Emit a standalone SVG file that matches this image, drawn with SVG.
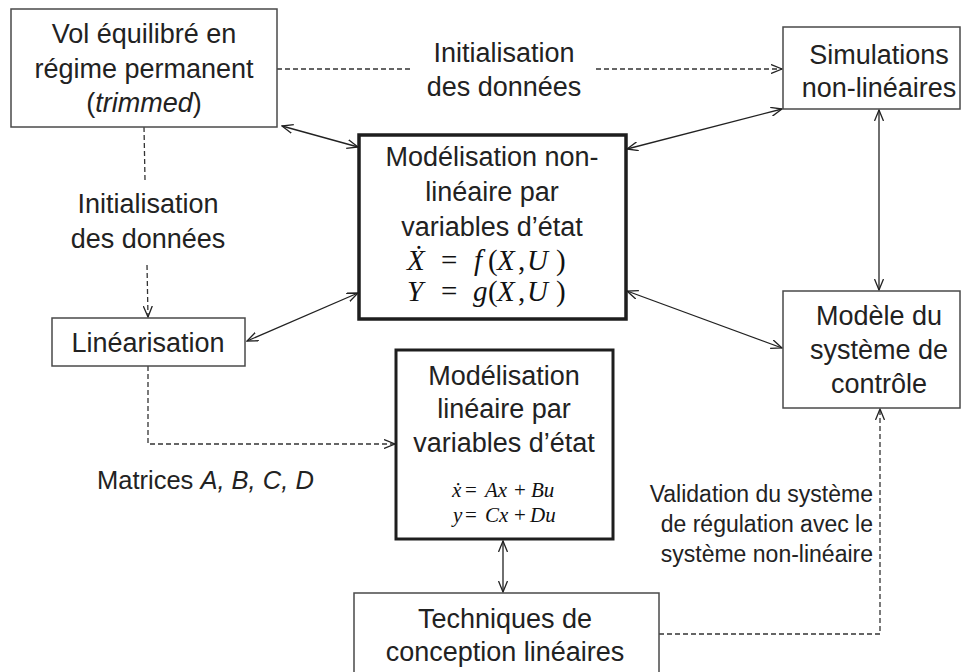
<svg xmlns="http://www.w3.org/2000/svg" width="965" height="672" viewBox="0 0 965 672">
<style>
.box{fill:#fff;stroke:#4a4a4a;stroke-width:1.5}
.thick{fill:#fff;stroke:#1e1e1e;stroke-width:3.5}
.mid{fill:#fff;stroke:#1e1e1e;stroke-width:3}
.t{font-family:"Liberation Sans",Arial,sans-serif;font-size:27px;fill:#222;text-anchor:middle}
.v{font-family:"Liberation Sans",Arial,sans-serif;font-size:23px;fill:#222;text-anchor:end}
.m{font-family:"Liberation Serif","DejaVu Serif",serif;font-style:italic;font-size:29px;fill:#111}
.ms{font-family:"Liberation Serif","DejaVu Serif",serif;font-style:italic;font-size:21px;fill:#111}
.up{font-style:normal}
.sol{fill:none;stroke:#222;stroke-width:1.3;marker-end:url(#ah);marker-start:url(#ah)}
.dash{fill:none;stroke:#333;stroke-width:1.3;stroke-dasharray:5 3;marker-end:url(#ah)}
.dn{fill:none;stroke:#333;stroke-width:1.3;stroke-dasharray:5 3}
</style>
<defs>
<marker id="ah" viewBox="0 0 12 10" refX="11" refY="5" markerWidth="12" markerHeight="10" markerUnits="userSpaceOnUse" orient="auto-start-reverse">
<path d="M0,0.5 L11,5 L0,9.5" fill="none" stroke="#222" stroke-width="1.3"/>
</marker>
</defs>
<rect width="965" height="672" fill="#fff"/>

<g id="connectors">
<line class="sol" x1="282" y1="126" x2="358" y2="147"/>
<line class="sol" x1="247" y1="341" x2="358" y2="293"/>
<line class="sol" x1="627" y1="149" x2="782" y2="109"/>
<line class="sol" x1="627" y1="291" x2="782" y2="348"/>
<line class="sol" x1="879" y1="110" x2="879" y2="290"/>
<line class="sol" x1="503" y1="541" x2="503" y2="592"/>
<line class="dn" x1="277" y1="69" x2="412" y2="69"/>
<line class="dash" x1="596" y1="69" x2="782" y2="69"/>
<line class="dn" x1="144" y1="127" x2="145" y2="180"/>
<line class="dash" x1="147" y1="265" x2="148" y2="317"/>
<polyline class="dash" points="148,366 148,444 395,444"/>
<polyline class="dash" points="659,634 880,634 880,409"/>
</g>

<g id="vol">
<rect class="box" x="11" y="9" width="266" height="118"/>
<text class="t" x="144" y="43">Vol équilibré en</text>
<text class="t" x="144" y="78">régime permanent</text>
<text class="t" x="144" y="112">(<tspan font-style="italic">trimmed</tspan>)</text>
</g>

<g id="sim">
<rect class="box" x="783" y="27" width="177" height="82"/>
<text class="t" x="879" y="64">Simulations</text>
<text class="t" x="879" y="97">non-linéaires</text>
</g>

<g id="nonlin">
<rect class="thick" x="359" y="135" width="267" height="184"/>
<text class="t" x="492" y="166">Modélisation non-</text>
<text class="t" x="492" y="201">linéaire par</text>
<text class="t" x="492" y="236">variables d’état</text>
<text class="m" y="270"><tspan x="407">Ẋ</tspan><tspan class="up" x="441">=</tspan><tspan x="474">f</tspan><tspan class="up" x="488">(</tspan><tspan x="497">X</tspan><tspan class="up" x="518">,</tspan><tspan x="527">U</tspan><tspan class="up" x="556">)</tspan></text>
<text class="m" y="301"><tspan x="407">Y</tspan><tspan class="up" x="441">=</tspan><tspan x="473">g</tspan><tspan class="up" x="488">(</tspan><tspan x="497">X</tspan><tspan class="up" x="518">,</tspan><tspan x="527">U</tspan><tspan class="up" x="556">)</tspan></text>
</g>

<g id="linearisation">
<rect class="box" x="52" y="318" width="193" height="48"/>
<text class="t" x="148" y="352">Linéarisation</text>
</g>

<g id="modele">
<rect class="box" x="783" y="291" width="177" height="117"/>
<text class="t" x="879" y="325">Modèle du</text>
<text class="t" x="879" y="359">système de</text>
<text class="t" x="879" y="393">contrôle</text>
</g>

<g id="lin">
<rect class="mid" x="396" y="350" width="217" height="189"/>
<text class="t" x="504" y="385">Modélisation</text>
<text class="t" x="504" y="418">linéaire par</text>
<text class="t" x="504" y="452">variables d’état</text>
<text class="ms" y="497"><tspan x="452">ẋ</tspan><tspan class="up" x="465">=</tspan><tspan x="485">Ax</tspan><tspan class="up" x="514">+</tspan><tspan x="531">Bu</tspan></text>
<text class="ms" y="522"><tspan x="453">y</tspan><tspan class="up" x="465">=</tspan><tspan x="485">Cx</tspan><tspan class="up" x="514">+</tspan><tspan x="530">Du</tspan></text>
</g>

<g id="techniques">
<rect class="box" x="354" y="593" width="305" height="90"/>
<text class="t" x="505" y="628">Techniques de</text>
<text class="t" x="505" y="661">conception linéaires</text>
</g>

<g id="labels">
<text class="t" x="504" y="62">Initialisation</text>
<text class="t" x="504" y="96">des données</text>
<text class="t" x="148" y="213">Initialisation</text>
<text class="t" x="148" y="248">des données</text>
<text class="t" x="97" y="489" style="text-anchor:start;font-size:25.5px">Matrices <tspan font-style="italic">A, B, C, D</tspan></text>
<text class="v" x="873" y="502">Validation du système</text>
<text class="v" x="873" y="532">de régulation avec le</text>
<text class="v" x="873" y="562">système non-linéaire</text>
</g>
</svg>
